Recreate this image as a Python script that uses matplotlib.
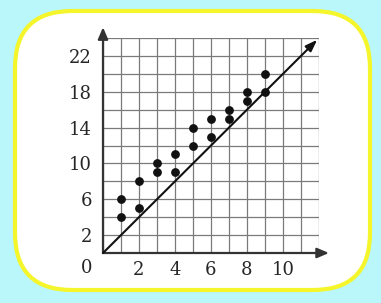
import matplotlib
matplotlib.use('Agg')
import matplotlib.pyplot as plt
from matplotlib.patches import FancyBboxPatch

# scatter data
x_vals = [1, 1, 2, 2, 3, 3, 4, 4, 5, 5, 6, 6, 7, 7, 8, 8, 9, 9]
y_vals = [4, 6, 5, 8, 9, 10, 9, 11, 12, 14, 13, 15, 15, 16, 17, 18, 18, 20]

# line y = 2x, drawn from the origin to the arrow tip
line_x = [0, 11.9]
line_y = [0, 23.8]

x_ticks = [2, 4, 6, 8, 10]
y_ticks = [2, 6, 10, 14, 18, 22]

plt.rcParams['font.family'] = ['DejaVu Serif']

fig = plt.figure(figsize=(3.81, 3.03), dpi=100)
fig.patch.set_facecolor('#b9f7fa')

# rounded yellow frame
frame = FancyBboxPatch((15 / 381, 1 - 290 / 303), (370 - 15) / 381, (290 - 11) / 303,
                       boxstyle='round,pad=0,rounding_size=0.15',
                       transform=fig.transFigure, facecolor='white',
                       edgecolor='#f4f52a', linewidth=3.0, mutation_aspect=381 / 303,
                       zorder=-5)
fig.patches.append(frame)

ax = fig.add_axes([103 / 381, 1 - 253 / 303, 216 / 381, 215 / 303])
ax.set_zorder(5)
ax.set_facecolor('none')
ax.set_xlim(0, 12)
ax.set_ylim(0, 24)

ax.set_xticks(range(0, 13), minor=True)
ax.set_yticks(range(0, 25, 2), minor=True)
ax.set_xticks(x_ticks)
ax.set_yticks(y_ticks)
ax.grid(which='both', color='#7a7a7a', linewidth=0.9)
ax.tick_params(which='both', length=0, labelsize=13, colors='#262626')
ax.tick_params(axis='x', pad=6)
ax.tick_params(axis='y', pad=8)
for s in ax.spines.values():
    s.set_visible(False)

# axes with arrow heads
ax.annotate('', xy=(12.55, 0), xytext=(0, 0),
            arrowprops=dict(arrowstyle='-|>,head_length=0.7,head_width=0.3',
                            color='#333333', lw=1.6, shrinkA=0, shrinkB=0),
            annotation_clip=False)
ax.annotate('', xy=(0, 25.2), xytext=(0, 0),
            arrowprops=dict(arrowstyle='-|>,head_length=0.7,head_width=0.3',
                            color='#333333', lw=1.6, shrinkA=0, shrinkB=0),
            annotation_clip=False)

# y = 2x line
ax.annotate('', xy=(line_x[1], line_y[1]), xytext=(line_x[0], line_y[0]),
            arrowprops=dict(arrowstyle='-|>,head_length=0.7,head_width=0.25',
                            color='#111111', lw=1.5, shrinkA=0, shrinkB=0),
            annotation_clip=False)

ax.scatter(x_vals, y_vals, s=28, color='#111111', zorder=5, clip_on=False)

ax.text(-0.9, -1.7, '0', fontsize=13, color='#262626', ha='center', va='center')

fig.savefig('out.png', dpi=100, facecolor=fig.get_facecolor())
